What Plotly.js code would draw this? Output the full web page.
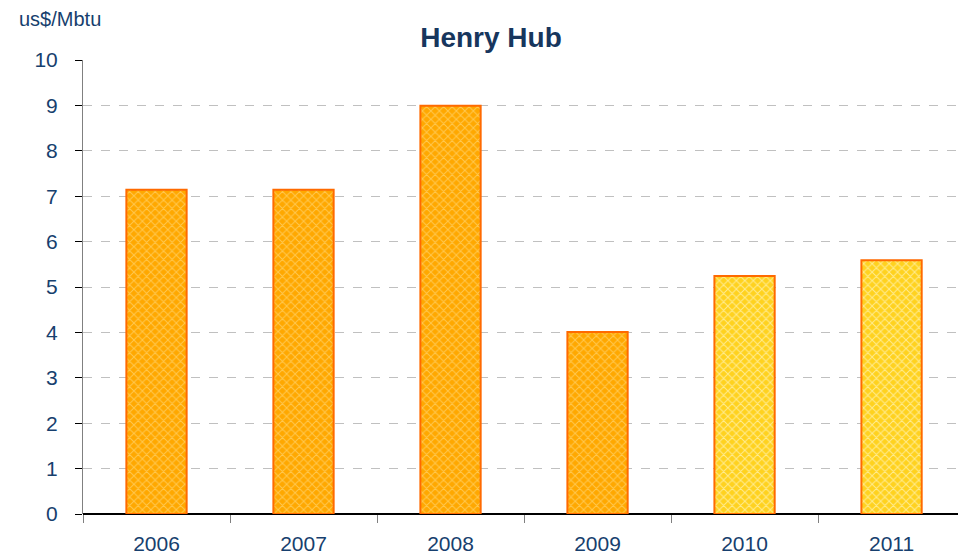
<!DOCTYPE html>
<html>
<head>
<meta charset="utf-8">
<script src="https://cdn.plot.ly/plotly-3.0.1.min.js"></script>
<style>html,body{margin:0;padding:0;background:#fff;}#chart{width:958px;height:555px;}</style>
</head>
<body>
<div id="chart"></div>
<script>
var years = ['2006', '2007', '2008', '2009', '2010', '2011'];
var prices = [7.14, 7.14, 8.99, 4.01, 5.24, 5.59];
// group: 0 = actual (orange), 1 = forecast (yellow)
var groups = [0, 0, 0, 0, 1, 1];
var groupFill = ['#FFA800', '#FFD21F'];
var groupPattern = ['#FFC850', '#FFEC90'];
var titleText = 'Henry Hub';
var unitText = 'us$/Mbtu';

var textColor = '#173F6E';

var traces = [0, 1].map(function (g) {
  var xs = [], ys = [];
  years.forEach(function (yr, i) {
    if (groups[i] === g) { xs.push(yr); ys.push(prices[i]); }
  });
  return {
    type: 'bar',
    x: xs,
    y: ys,
    width: 0.41,
    marker: {
      color: groupFill[g],
      line: {color: '#FF6A00', width: 2},
      pattern: {shape: 'x', fillmode: 'replace', bgcolor: groupFill[g], fgcolor: groupPattern[g], size: 6, solidity: 0.3}
    },
    hoverinfo: 'x+y'
  };
});

var layout = {
  width: 958,
  height: 555,
  margin: {l: 83, r: 0, t: 60, b: 41},
  paper_bgcolor: '#fff',
  plot_bgcolor: '#fff',
  barmode: 'overlay',
  font: {family: 'Liberation Sans, Arial, sans-serif', color: textColor},
  showlegend: false,
  title: {
    text: '<b>' + titleText + '</b>',
    font: {size: 28, color: '#17365D', family: 'Liberation Sans, Arial, sans-serif'},
    x: 0.5125, xref: 'container', xanchor: 'center',
    y: 0.933, yref: 'container', yanchor: 'middle'
  },
  xaxis: {
    type: 'category',
    categoryorder: 'array',
    categoryarray: years,
    range: [-0.5, 5.452],
    tickson: 'boundaries',
    ticks: 'outside',
    ticklen: 8,
    tickcolor: '#808080',
    tickwidth: 1,
    showline: false,
    showgrid: false,
    zeroline: false,
    tickfont: {size: 21, color: textColor},
    ticklabelstandoff: 15,
    fixedrange: true
  },
  yaxis: {
    range: [0, 10],
    dtick: 1,
    tick0: 0,
    ticks: 'outside',
    ticklen: 7,
    tickcolor: '#000',
    tickwidth: 1,
    showline: true,
    linecolor: '#808080',
    linewidth: 1,
    showgrid: true,
    gridcolor: '#C0C0C0',
    griddash: 'dash',
    gridwidth: 1,
    zeroline: true,
    zerolinecolor: '#000',
    zerolinewidth: 1.5,
    tickfont: {size: 21, color: textColor},
    ticklabelstandoff: 13,
    fixedrange: true
  },
  annotations: [{
    text: unitText,
    xref: 'paper', yref: 'paper',
    x: -0.0754, y: 1.0903,
    xanchor: 'left', yanchor: 'middle',
    showarrow: false,
    font: {size: 20, color: textColor}
  }]
};

Plotly.newPlot('chart', traces, layout, {displayModeBar: false, staticPlot: true});
</script>
</body>
</html>
